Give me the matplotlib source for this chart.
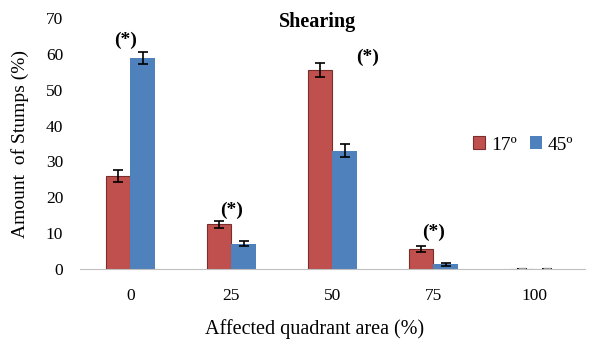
import matplotlib
matplotlib.use("Agg")
import matplotlib.pyplot as plt
import numpy as np

categories = ["0", "25", "50", "75", "100"]
vals_17 = [26.0, 12.5, 55.5, 5.5, 0.0]
err_17 = [1.6, 1.0, 2.0, 0.8, 0.0]
vals_45 = [58.8, 7.0, 33.0, 1.3, 0.0]
err_45 = [1.7, 0.7, 1.8, 0.5, 0.0]
star_labels = ["(*)", "(*)", "(*)", "(*)", ""]
star_y = [63.8, 16.4, 59.0, 10.3, 0]
star_dx = [-0.05, 0.0, 0.35, 0.0, 0.0]

plt.rcParams['font.family'] = ['Liberation Serif', 'DejaVu Serif']

fig = plt.figure(figsize=(6, 3.46), dpi=100)
ax = fig.add_axes([0.133, 0.2225, 0.842, 0.7255])

x = np.arange(len(categories))
w = 0.245
ekw = dict(elinewidth=1.2, capthick=1.2, ecolor="black")
ax.bar(x - w / 2, vals_17, w, yerr=err_17, capsize=3.5, color="#C0504D",
       edgecolor="#7a2e2c", linewidth=0.8, error_kw=ekw, label="17º")
ax.bar(x + w / 2, vals_45, w, yerr=err_45, capsize=3.5, color="#4F81BD",
       linewidth=0, error_kw=ekw, label="45º")

# tiny dashes at the 100% category (zero values)
for dx in (-w / 2, w / 2):
    ax.plot([x[4] + dx - 0.03, x[4] + dx + 0.03], [0.15, 0.15], color="#999999", lw=1)

for i, s in enumerate(star_labels):
    if s:
        ax.text(x[i] + star_dx[i], star_y[i], s, ha="center", va="center",
                fontsize=14, fontweight="bold")

ax.set_xlim(-0.5, 4.5)
ax.set_ylim(0, 70)
ax.set_yticks(range(0, 71, 10))
ax.set_xticks(x)
ax.set_xticklabels(categories)
ax.tick_params(length=0, labelsize=12.5)
ax.tick_params(axis="x", pad=14)
ax.tick_params(axis="y", pad=12)
for s in ["top", "right", "left"]:
    ax.spines[s].set_visible(False)
ax.spines["bottom"].set_color("#bfbfbf")

ax.set_title("Shearing", fontsize=14.5, fontweight="bold", x=0.47, y=0.93)
ax.set_xlabel("Affected quadrant area (%)", fontsize=14.5)
ax.xaxis.set_label_coords(0.465, -0.2)
ax.set_ylabel("Amount  of Stumps (%)", fontsize=14, labelpad=12)

ax.legend(loc="center left", bbox_to_anchor=(0.76, 0.494), ncol=2, frameon=False,
          fontsize=14, handlelength=0.6, handleheight=0.6, handletextpad=0.3,
          columnspacing=0.7, borderpad=0)

fig.savefig("out.png", dpi=100)
